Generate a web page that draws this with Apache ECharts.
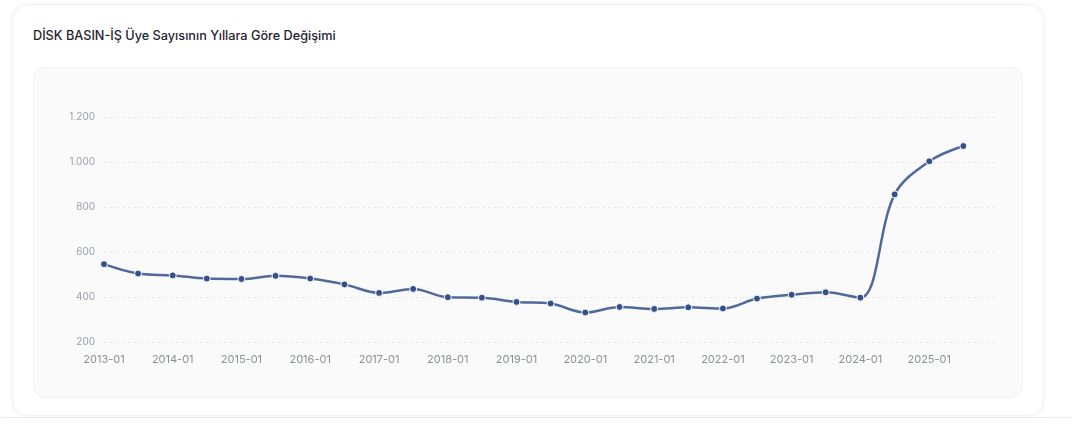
<!DOCTYPE html>
<html>
<head>
<meta charset="utf-8">
<script src="https://cdn.jsdelivr.net/npm/echarts@6/dist/echarts.min.js"></script>
<style>
  html, body { margin: 0; padding: 0; background: #ffffff; width: 1072px; height: 433px; overflow: hidden; }
  .card {
    position: absolute; left: 12px; top: 4px; width: 1030px; height: 410px;
    background: #fff; border: 1px solid #f1f1f1; border-radius: 16px;
    box-shadow: 0 1px 6px rgba(0, 0, 0, 0.05);
  }
  .sep { position: absolute; left: 0; top: 417px; width: 1072px; height: 1px; background: #ececec; }
  .title {
    position: absolute; left: 33px; top: 28px;
    font-family: Inter, "Noto Sans", sans-serif; font-weight: 500; font-size: 12.7px;
    color: #1f2430;
  }
  .panel {
    position: absolute; left: 33px; top: 67px; width: 988px; height: 329px;
    background: #fafafa; border: 1px solid #f0f0f0; border-radius: 12px;
  }
  #chart { position: absolute; left: 0; top: 0; width: 988px; height: 329px; }
</style>
</head>
<body>
<div class="sep"></div>
<div class="card"></div>
<div class="title">DİSK BASIN-İŞ Üye Sayısının Yıllara Göre Değişimi</div>
<div class="panel"><div id="chart"></div></div>
<script>
  // half-yearly member counts
  const periods = [
    '2013-01', '2013-07', '2014-01', '2014-07', '2015-01', '2015-07',
    '2016-01', '2016-07', '2017-01', '2017-07', '2018-01', '2018-07',
    '2019-01', '2019-07', '2020-01', '2020-07', '2021-01', '2021-07',
    '2022-01', '2022-07', '2023-01', '2023-07', '2024-01', '2024-07',
    '2025-01', '2025-07'
  ];
  const members = [
    546, 504, 496, 482, 480, 494,
    482, 456, 418, 436, 399, 397,
    378, 371, 331, 356, 347, 354,
    349, 393, 410, 421, 397, 856,
    1003, 1071
  ];
  const axisStart = '2013-01';
  const axisEnd = '2026-01';
  const yTicks = [200, 400, 600, 800, 1000, 1200];

  const toTime = (p) => {
    const [y, m] = p.split('-').map(Number);
    return Date.UTC(y, m - 1, 1);
  };
  const fmtNum = (v) => String(v).replace(/\B(?=(\d{3})+(?!\d))/g, '.');
  const YEAR = 365.25 * 24 * 3600 * 1000;

  const chart = echarts.init(document.getElementById('chart'));
  chart.setOption({
    animation: false,
    useUTC: true,
    grid: { left: 70, right: 24, top: 49, bottom: 55 },
    xAxis: {
      type: 'time',
      min: toTime(axisStart),
      max: toTime(axisEnd),
      minInterval: YEAR,
      maxInterval: YEAR,
      axisLine: { show: false },
      axisTick: { show: false },
      splitLine: { show: false },
      axisLabel: {
        color: '#8b9098',
        fontSize: 11,
        fontFamily: 'Inter, "Noto Sans", sans-serif',
        margin: 12,
        showMaxLabel: false,
        formatter: (v) => {
          const d = new Date(v);
          return d.getUTCFullYear() + '-' + String(d.getUTCMonth() + 1).padStart(2, '0');
        }
      }
    },
    yAxis: {
      type: 'value',
      min: yTicks[0],
      max: yTicks[yTicks.length - 1],
      interval: yTicks[1] - yTicks[0],
      axisLine: { show: false },
      axisTick: { show: false },
      axisLabel: {
        color: '#9aa0a8',
        fontSize: 10,
        fontFamily: 'Inter, "Noto Sans", sans-serif',
        margin: 9,
        formatter: fmtNum
      },
      splitLine: { lineStyle: { color: '#e6e8eb', type: [3, 3], width: 1 } }
    },
    series: [{
      type: 'line',
      data: periods.map((p, i) => [toTime(p), members[i]]),
      smooth: 0.35,
      symbol: 'circle',
      symbolSize: 7,
      lineStyle: { color: '#50699a', width: 2.5 },
      itemStyle: { color: '#34508a', borderColor: '#fafafa', borderWidth: 1 }
    }]
  });
</script>
</body>
</html>
